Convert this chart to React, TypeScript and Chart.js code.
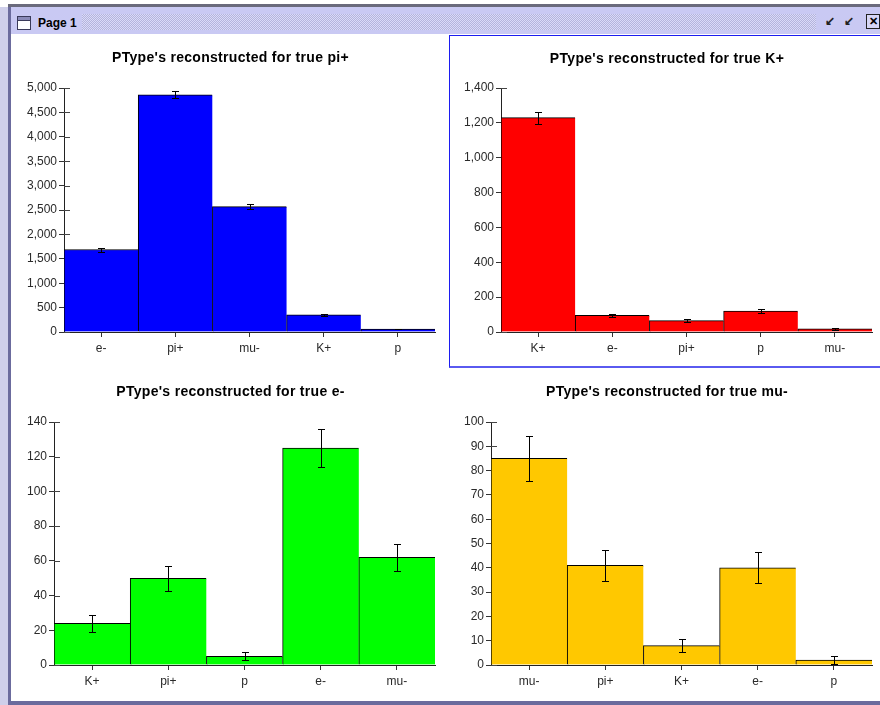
import React, { useEffect, useRef } from "react";
import { Chart, registerables } from "chart.js";

Chart.register(...registerables);

// Reconstructed particle-type counts for each true particle species
const piCategories = ["e-", "pi+", "mu-", "K+", "p"];
const piCounts = [1690, 4860, 2570, 350, 60];
const piErrors = [41, 70, 51, 19, 8];

const kCategories = ["K+", "e-", "pi+", "p", "mu-"];
const kCounts = [1230, 95, 65, 120, 18];
const kErrors = [35, 10, 8, 11, 4];

const eCategories = ["K+", "pi+", "p", "e-", "mu-"];
const eCounts = [24, 50, 5, 125, 62];
const eErrors = [4.9, 7.1, 2.4, 11.2, 7.9];

const muCategories = ["mu-", "pi+", "K+", "e-", "p"];
const muCounts = [85, 41, 8, 40, 2];
const muErrors = [9.3, 6.5, 2.8, 6.3, 1.5];

const piTicks = { max: 5000, step: 500 };
const kTicks = { max: 1400, step: 200 };
const eTicks = { max: 140, step: 20 };
const muTicks = { max: 100, step: 10 };

const FONT = "'Liberation Sans', Arial, Helvetica, sans-serif";
const fmt = new Intl.NumberFormat("en-US");

type PanelProps = {
  title: string;
  categories: string[];
  counts: number[];
  errors: number[];
  color: string;
  yMax: number;
  yStep: number;
  left: number;
  top: number;
  width: number;
  height: number;
  axisWidth: number;
  padTop: number;
  padRight: number;
  xAxisHeight: number;
  titleY: number;
  titleDx: number;
};

function HistPanel(p: PanelProps) {
  const ref = useRef<HTMLCanvasElement | null>(null);

  useEffect(() => {
    if (!ref.current) return;

    const errorBars = {
      id: "errorBars",
      afterDatasetsDraw(chart: any) {
        const meta = chart.getDatasetMeta(0);
        const y = chart.scales.y;
        const ctx = chart.ctx as CanvasRenderingContext2D;
        const values = chart.data.datasets[0].data as number[];
        ctx.save();
        ctx.strokeStyle = "#000";
        ctx.lineWidth = 1;
        meta.data.forEach((bar: any, i: number) => {
          const v = values[i];
          const e = p.errors[i];
          const x = Math.round(bar.x) + 0.5;
          const yt = Math.round(y.getPixelForValue(v + e)) + 0.5;
          const yb = Math.round(y.getPixelForValue(Math.max(0, v - e))) + 0.5;
          ctx.beginPath();
          ctx.moveTo(x, yt);
          ctx.lineTo(x, yb);
          ctx.moveTo(x - 3.5, yt);
          ctx.lineTo(x + 3.5, yt);
          ctx.moveTo(x - 3.5, yb);
          ctx.lineTo(x + 3.5, yb);
          ctx.stroke();
        });
        ctx.restore();
      },
    };

    // short tick marks pointing into the plot; bars cover them where they overlap
    const innerTicks = {
      id: "innerTicks",
      beforeDatasetsDraw(chart: any) {
        const y = chart.scales.y;
        const ctx = chart.ctx as CanvasRenderingContext2D;
        const l = chart.chartArea.left;
        ctx.save();
        ctx.strokeStyle = "#444";
        ctx.lineWidth = 1;
        y.ticks.forEach((_t: any, i: number) => {
          const py = Math.round(y.getPixelForTick(i)) + 0.5;
          ctx.beginPath();
          ctx.moveTo(l, py);
          ctx.lineTo(l + 6, py);
          ctx.stroke();
        });
        ctx.restore();
      },
    };

    const panelTitle = {
      id: "panelTitle",
      afterDraw(chart: any) {
        const ctx = chart.ctx as CanvasRenderingContext2D;
        ctx.save();
        ctx.font = `bold 14px ${FONT}`;
        (ctx as any).letterSpacing = "0.3px";
        ctx.fillStyle = "#000";
        ctx.textAlign = "center";
        ctx.textBaseline = "middle";
        ctx.fillText(p.title, chart.width / 2 + p.titleDx, p.titleY);
        ctx.restore();
      },
    };

    const chart = new Chart(ref.current, {
      type: "bar",
      data: {
        labels: p.categories,
        datasets: [
          {
            data: p.counts,
            backgroundColor: p.color,
            borderColor: "#000",
            borderWidth: { top: 1, left: 1, right: 0, bottom: 0 },
            borderSkipped: false,
            barPercentage: 1,
            categoryPercentage: 1,
          },
        ],
      },
      options: {
        responsive: false,
        animation: false,
        devicePixelRatio: 1,
        layout: { padding: { top: p.padTop, right: p.padRight, left: 0, bottom: 0 } },
        plugins: {
          legend: { display: false },
          title: { display: false },
          tooltip: { enabled: false },
        },
        scales: {
          x: {
            type: "category",
            offset: true,
            grid: {
              offset: false,
              drawOnChartArea: false,
              drawTicks: true,
              tickLength: 5,
              color: "#333",
            },
            border: { display: true, color: "#222" },
            ticks: {
              color: "#2a2a2a",
              padding: 4,
              font: { family: FONT, size: 12 },
              maxRotation: 0,
            },
            afterFit: (s: any) => {
              s.height = p.xAxisHeight;
            },
          },
          y: {
            min: 0,
            max: p.yMax,
            grid: {
              drawOnChartArea: false,
              drawTicks: true,
              tickLength: 5,
              color: "#333",
            },
            border: { display: true, color: "#222" },
            ticks: {
              stepSize: p.yStep,
              color: "#2a2a2a",
              padding: 2,
              font: { family: FONT, size: 12 },
              callback: (v: any) => fmt.format(Number(v)),
            },
            afterFit: (s: any) => {
              s.width = p.axisWidth;
            },
          },
        },
      },
      plugins: [innerTicks, errorBars, panelTitle],
    } as any);

    return () => chart.destroy();
  }, []);

  return (
    <canvas
      ref={ref}
      width={p.width}
      height={p.height}
      style={{ position: "absolute", left: p.left, top: p.top, width: p.width, height: p.height }}
    />
  );
}

function TitleIcon() {
  return (
    <div
      style={{
        position: "absolute",
        left: 17,
        top: 16,
        width: 14,
        height: 14,
        border: "1px solid #3a3a5a",
        background: "#fff",
        boxSizing: "border-box",
      }}
    >
      <div style={{ height: 3, background: "#8a8ab8", borderBottom: "1px solid #3a3a5a" }} />
    </div>
  );
}

function FrameButton({ left, glyph }: { left: number; glyph: string }) {
  return (
    <div
      style={{
        position: "absolute",
        left,
        top: 14,
        width: 15,
        height: 15,
        font: `bold 12px ${FONT}`,
        color: "#222",
        lineHeight: "15px",
        textAlign: "center",
      }}
    >
      {glyph}
    </div>
  );
}

export default function App() {
  return (
    <div
      style={{
        position: "absolute",
        left: 0,
        top: 0,
        width: 880,
        height: 705,
        overflow: "hidden",
        background: "#fff",
        fontFamily: FONT,
      }}
    >
      {/* window chrome */}
      <div style={{ position: "absolute", left: 0, top: 7, width: 8, height: 698, background: "#cfcfea" }} />
      <div style={{ position: "absolute", left: 8, top: 4, width: 872, height: 3, background: "#6a6a7c" }} />
      <div style={{ position: "absolute", left: 8, top: 7, width: 3, height: 698, background: "#6b6b9d" }} />
      <div style={{ position: "absolute", left: 11, top: 7, width: 869, height: 27, background: "#c9c9f3" }} />
      <div
        style={{
          position: "absolute",
          left: 82,
          top: 14,
          width: 734,
          height: 16,
          background: "repeating-conic-gradient(#b4b4dc 0 25%, #dadaf8 0 50%) 0 0 / 2px 2px",
        }}
      />
      <TitleIcon />
      <div
        style={{
          position: "absolute",
          left: 38,
          top: 15,
          font: `bold 12px ${FONT}`,
          color: "#000",
          lineHeight: "17px",
        }}
      >
        Page 1
      </div>
      <FrameButton left={822} glyph="↙" />
      <FrameButton left={841} glyph="↙" />
      <div
        style={{
          position: "absolute",
          left: 866,
          top: 14,
          width: 14,
          height: 15,
          border: "1px solid #222",
          boxSizing: "border-box",
          background: "#d6d6f6",
          font: `bold 11px ${FONT}`,
          lineHeight: "13px",
          textAlign: "center",
        }}
      >
        ✕
      </div>
      <div style={{ position: "absolute", left: 8, top: 701, width: 872, height: 4, background: "#6b6b9d" }} />

      {/* selected panel outline */}
      <div
        style={{
          position: "absolute",
          left: 449,
          top: 35,
          width: 440,
          height: 333,
          border: "1px solid #1c1cf0",
          borderBottom: "2px solid #5a5af0",
          boxSizing: "border-box",
        }}
      />

      <HistPanel
        title="PType's reconstructed for true pi+"
        categories={piCategories}
        counts={piCounts}
        errors={piErrors}
        color="#0000ff"
        yMax={piTicks.max}
        yStep={piTicks.step}
        left={12}
        top={36}
        width={437}
        height={330}
        axisWidth={52}
        padTop={52}
        padRight={14}
        xAxisHeight={34}
        titleY={22.5}
        titleDx={0}
      />
      <HistPanel
        title="PType's reconstructed for true K+"
        categories={kCategories}
        counts={kCounts}
        errors={kErrors}
        color="#ff0000"
        yMax={kTicks.max}
        yStep={kTicks.step}
        left={450}
        top={37}
        width={430}
        height={330}
        axisWidth={51}
        padTop={51}
        padRight={8}
        xAxisHeight={35}
        titleY={22}
        titleDx={2}
      />
      <HistPanel
        title="PType's reconstructed for true e-"
        categories={eCategories}
        counts={eCounts}
        errors={eErrors}
        color="#00ff00"
        yMax={eTicks.max}
        yStep={eTicks.step}
        left={12}
        top={370}
        width={437}
        height={330}
        axisWidth={42}
        padTop={52}
        padRight={14}
        xAxisHeight={35}
        titleY={22.5}
        titleDx={0}
      />
      <HistPanel
        title="PType's reconstructed for true mu-"
        categories={muCategories}
        counts={muCounts}
        errors={muErrors}
        color="#ffc800"
        yMax={muTicks.max}
        yStep={muTicks.step}
        left={450}
        top={370}
        width={430}
        height={330}
        axisWidth={41}
        padTop={52}
        padRight={8}
        xAxisHeight={35}
        titleY={22.5}
        titleDx={2}
      />
    </div>
  );
}
